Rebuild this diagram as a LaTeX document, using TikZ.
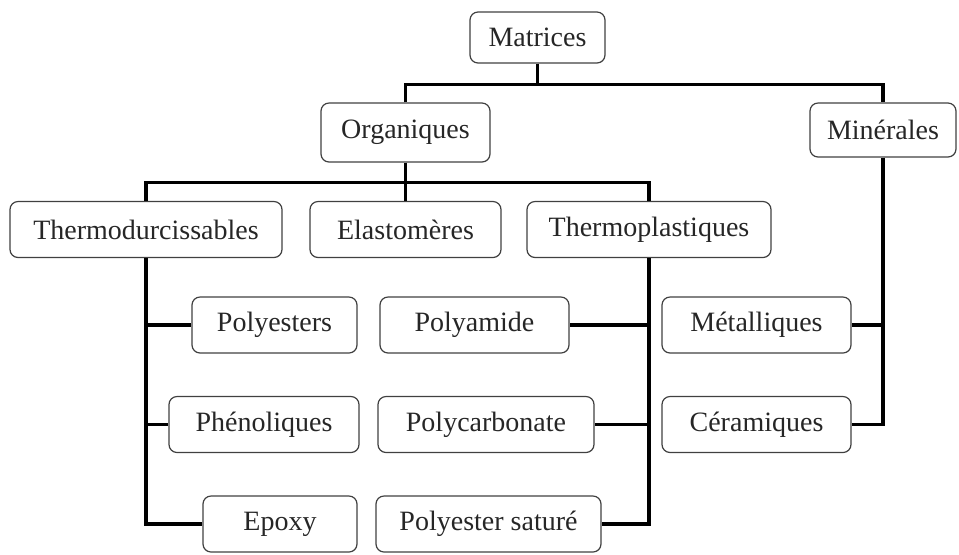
\documentclass[tikz,border=0pt]{standalone}
\usepackage{fontspec}
\setmainfont{Liberation Serif}
\usepackage{tikz}
\usetikzlibrary{positioning}

\begin{document}
\begin{tikzpicture}[x=0.5pt, y=-0.5pt,
    matbox/.style={draw=black!75, line width=0.6pt, rounded corners=4pt, inner sep=0pt,
                   minimum height=28pt, text=black!85, font=\fontsize{14}{16}\selectfont},
    link/.style={line width=1.6pt, black}]
    \useasboundingbox (0,0) rectangle (959,554);

    \node (matrices) [matbox, minimum width=67.5pt, minimum height=25.5pt] at (537.5,37.5) {Matrices};
    \node (organiques) [matbox, minimum width=84.5pt, minimum height=29.5pt] at (405.5,132.5) {Organiques};
    \node (minerales) [matbox, minimum width=73pt, minimum height=27pt] at (883,130) {Minérales};

    \node (thermodur) [matbox, minimum width=136pt] at (146,229.5) {Thermodurcissables};
    \node (elastomeres) [matbox, minimum width=95.5pt] at (405.5,229.5) {Elastomères};
    \node (thermoplast) [matbox, minimum width=122pt] at (649,229.5) {Thermoplastiques};

    \node (polyesters) [matbox, minimum width=82.5pt] at (274.5,325) {Polyesters};
    \node (phenoliques) [matbox, minimum width=95pt] at (264,424.5) {Phénoliques};
    \node (epoxy) [matbox, minimum width=77pt] at (280,524) {Epoxy};

    \node (polyamide) [matbox, minimum width=94.5pt] at (474.5,325) {Polyamide};
    \node (polycarb) [matbox, minimum width=108pt] at (486,424.5) {Polycarbonate};
    \node (polysat) [matbox, minimum width=112.5pt] at (488.5,524) {Polyester saturé};

    \node (metalliques) [matbox, minimum width=94.5pt] at (756.5,325) {Métalliques};
    \node (ceramiques) [matbox, minimum width=94.5pt] at (756.5,424.5) {Céramiques};

    % top levels
    \draw [link] (matrices.south) -- ++(0,21) coordinate (jmat);
    \draw [link] (organiques.north) |- (jmat) -| (minerales.north);
    \draw [link] (organiques.south) -- ++(0,20) coordinate (jorg);
    \draw [link] (thermodur.north) |- (jorg) -| (thermoplast.north);
    \draw [link] (jorg) -- (elastomeres.north);

    % thermodurcissables
    \draw [link] (thermodur.south) |- (epoxy.west);
    \draw [link] (thermodur.south |- polyesters.west) -- (polyesters.west);
    \draw [link] (thermodur.south |- phenoliques.west) -- (phenoliques.west);

    % thermoplastiques
    \draw [link] (thermoplast.south) |- (polysat.east);
    \draw [link] (thermoplast.south |- polyamide.east) -- (polyamide.east);
    \draw [link] (thermoplast.south |- polycarb.east) -- (polycarb.east);

    % minerales
    \draw [link] (minerales.south) |- (ceramiques.east);
    \draw [link] (minerales.south |- metalliques.east) -- (metalliques.east);
\end{tikzpicture}
\end{document}
